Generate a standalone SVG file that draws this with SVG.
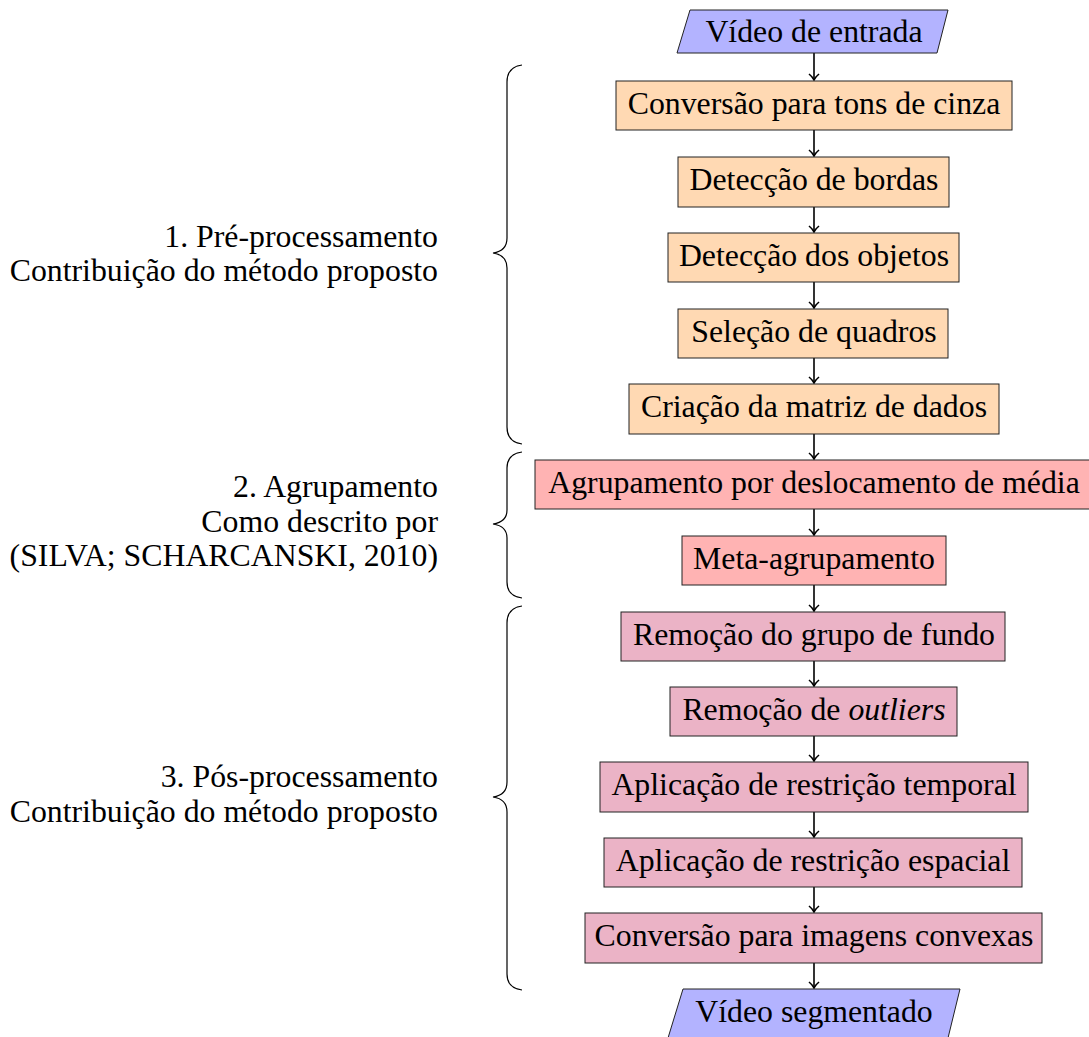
<svg xmlns="http://www.w3.org/2000/svg" width="1089" height="1037" viewBox="0 0 1089 1037" font-family="'Liberation Serif', 'Times New Roman', serif">
  <defs>
    <style>
      text { font-family: 'Liberation Serif', 'Times New Roman', serif; font-size: 31.8px; fill: #000; }
      .node text { text-anchor: middle; }
      .label text { text-anchor: end; }
      .io { fill: #B3B3FF; stroke: #222; stroke-width: 1; }
      .pre { fill: #FFD9B3; stroke: #222; stroke-width: 1; }
      .grp { fill: #FFB3B3; stroke: #222; stroke-width: 1; }
      .pos { fill: #EBB3C6; stroke: #222; stroke-width: 1; }
      .edge { stroke: #000; stroke-width: 1.6; fill: none; marker-end: url(#tip); }
      .brace { stroke: #000; stroke-width: 1.2; fill: none; }
    </style>
    <marker id="tip" markerUnits="userSpaceOnUse" markerWidth="14" markerHeight="14" viewBox="-8 -7 10 14" refX="0" refY="0" orient="auto">
      <path d="M -6 -5 C -3.5 -2 -1.5 -0.6 0 0 C -1.5 0.6 -3.5 2 -6 5" stroke="#000" stroke-width="1.6" fill="none"/>
    </marker>
  </defs>

  <!-- stage braces and their captions -->
  <g id="brace-pre" class="label">
    <path class="brace" d="M 522 65 Q 507 67 507 82 L 507 238 Q 507 251 493 253 Q 507 255 507 268 L 507 427 Q 507 442 522 444"/>
    <text x="438" y="246.5">1. Pré-processamento</text>
    <text x="438" y="281">Contribuição do método proposto</text>
  </g>
  <g id="brace-grp" class="label">
    <path class="brace" d="M 522 452 Q 507 454 507 468 L 507 510 Q 507 522 493 524 Q 507 526 507 538 L 507 582 Q 507 596 522 598"/>
    <text x="438" y="497">2. Agrupamento</text>
    <text x="438" y="531.5">Como descrito por</text>
    <text x="438" y="566">(SILVA; SCHARCANSKI, 2010)</text>
  </g>
  <g id="brace-pos" class="label">
    <path class="brace" d="M 522 606 Q 507 608 507 623 L 507 782 Q 507 795 493 797 Q 507 799 507 812 L 507 974 Q 507 988 522 990"/>
    <text x="438" y="787">3. Pós-processamento</text>
    <text x="438" y="821.5">Contribuição do método proposto</text>
  </g>

  <!-- connectors -->
  <g id="connectors">
    <line class="edge" x1="814" y1="53" x2="814" y2="80"/>
    <line class="edge" x1="814" y1="130" x2="814" y2="156"/>
    <line class="edge" x1="814" y1="207" x2="814" y2="232"/>
    <line class="edge" x1="814" y1="282" x2="814" y2="308"/>
    <line class="edge" x1="814" y1="358" x2="814" y2="383"/>
    <line class="edge" x1="814" y1="434" x2="814" y2="459"/>
    <line class="edge" x1="814" y1="509" x2="814" y2="535"/>
    <line class="edge" x1="814" y1="585" x2="814" y2="611"/>
    <line class="edge" x1="814" y1="661" x2="814" y2="686"/>
    <line class="edge" x1="814" y1="736" x2="814" y2="761"/>
    <line class="edge" x1="814" y1="812" x2="814" y2="837"/>
    <line class="edge" x1="814" y1="887" x2="814" y2="912"/>
    <line class="edge" x1="814" y1="963" x2="814" y2="988"/>
  </g>

  <!-- flow nodes -->
  <g id="n-input" class="node">
    <polygon class="io" points="690,10 948,10 937,53 677,53"/>
    <text x="814" y="42">Vídeo de entrada</text>
  </g>
  <g id="n-gray" class="node">
    <rect class="pre" x="616" y="81" width="396" height="49"/>
    <text x="814" y="114">Conversão para tons de cinza</text>
  </g>
  <g id="n-edges" class="node">
    <rect class="pre" x="678" y="157" width="271" height="50"/>
    <text x="814" y="190">Detecção de bordas</text>
  </g>
  <g id="n-objects" class="node">
    <rect class="pre" x="668" y="233" width="291" height="49"/>
    <text x="814" y="266">Detecção dos objetos</text>
  </g>
  <g id="n-frames" class="node">
    <rect class="pre" x="678" y="309" width="270" height="49"/>
    <text x="814" y="342">Seleção de quadros</text>
  </g>
  <g id="n-matrix" class="node">
    <rect class="pre" x="629" y="384" width="370" height="50"/>
    <text x="814" y="417">Criação da matriz de dados</text>
  </g>
  <g id="n-meanshift" class="node">
    <rect class="grp" x="535" y="460" width="558" height="49"/>
    <text x="814" y="493">Agrupamento por deslocamento de média</text>
  </g>
  <g id="n-meta" class="node">
    <rect class="grp" x="682" y="536" width="264" height="49"/>
    <text x="814" y="569">Meta-agrupamento</text>
  </g>
  <g id="n-background" class="node">
    <rect class="pos" x="621" y="612" width="384" height="49"/>
    <text x="814" y="645">Remoção do grupo de fundo</text>
  </g>
  <g id="n-outliers" class="node">
    <rect class="pos" x="670" y="687" width="287" height="49"/>
    <text x="814" y="720">Remoção de <tspan font-style="italic">outliers</tspan></text>
  </g>
  <g id="n-temporal" class="node">
    <rect class="pos" x="600" y="762" width="428" height="50"/>
    <text x="814" y="795">Aplicação de restrição temporal</text>
  </g>
  <g id="n-spatial" class="node">
    <rect class="pos" x="604" y="838" width="418" height="49"/>
    <text x="813" y="871">Aplicação de restrição espacial</text>
  </g>
  <g id="n-convex" class="node">
    <rect class="pos" x="585" y="913" width="457" height="50"/>
    <text x="814" y="946">Conversão para imagens convexas</text>
  </g>
  <g id="n-output" class="node">
    <polygon class="io" points="683,989 960,989 948,1038 668,1038"/>
    <text x="814" y="1022">Vídeo segmentado</text>
  </g>
</svg>
